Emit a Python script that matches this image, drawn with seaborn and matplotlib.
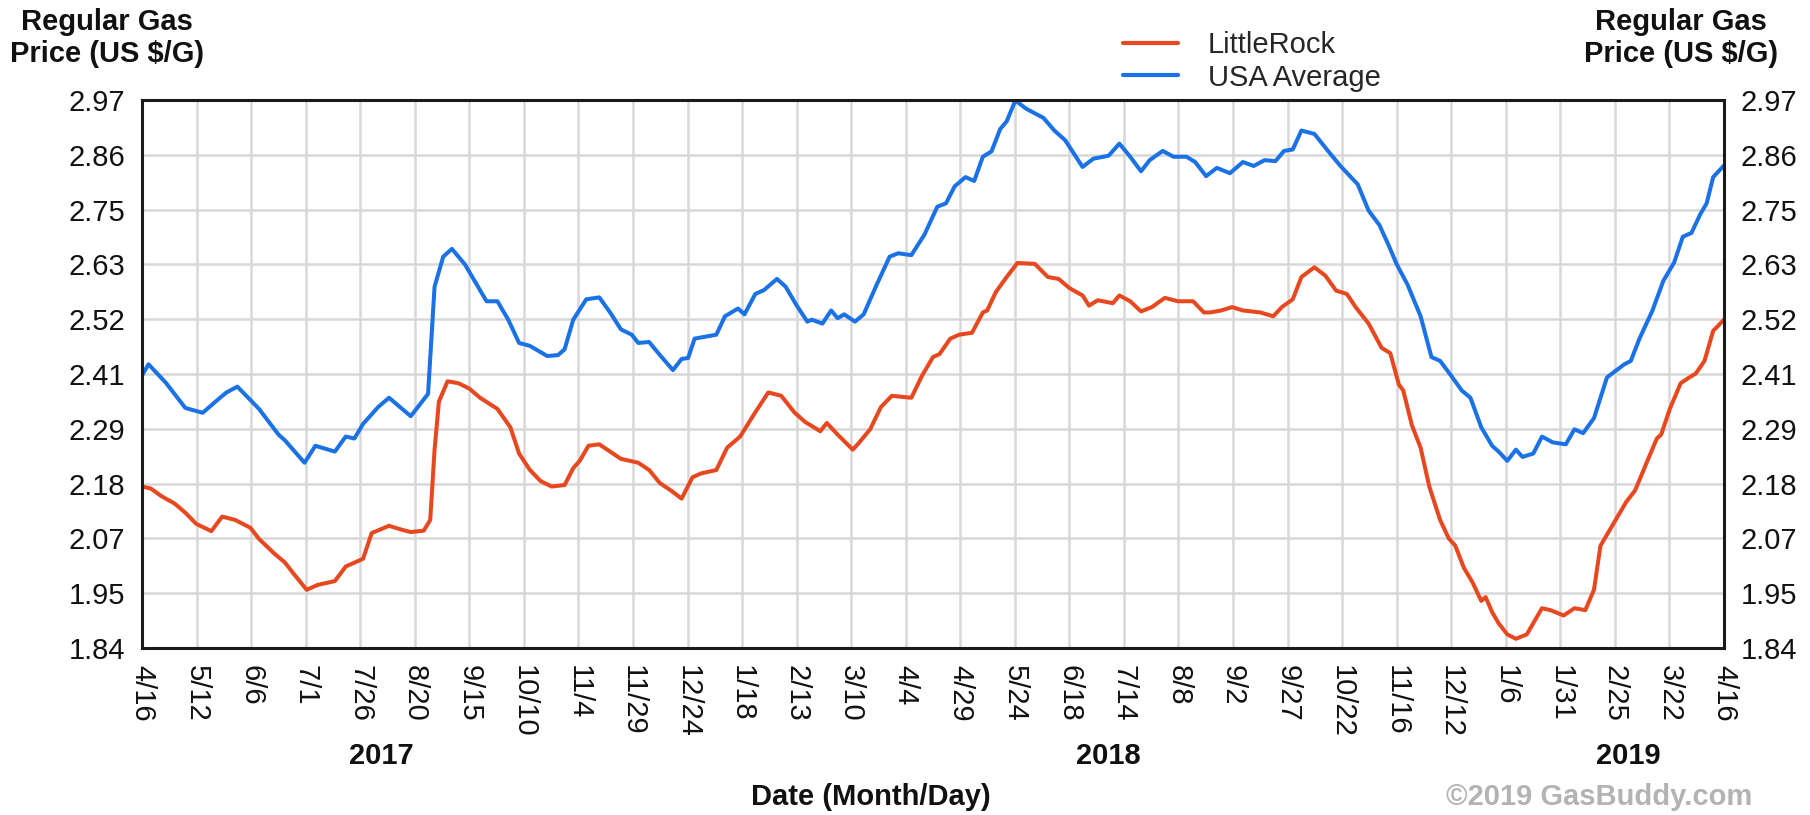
import matplotlib
matplotlib.use("Agg")
import matplotlib.pyplot as plt
import matplotlib.dates as mdates
import numpy as np
import pandas as pd
import seaborn as sns

# ---------------- data ----------------
little_rock_dates = [
    "2017-04-16", "2017-04-20", "2017-04-25", "2017-05-01", "2017-05-06", "2017-05-11",
    "2017-05-18", "2017-05-23", "2017-05-29", "2017-06-05", "2017-06-09", "2017-06-16",
    "2017-06-21", "2017-06-25", "2017-07-01", "2017-07-06", "2017-07-14", "2017-07-19",
    "2017-07-27", "2017-07-31", "2017-08-08", "2017-08-13", "2017-08-18", "2017-08-24",
    "2017-08-27", "2017-08-29", "2017-08-31", "2017-09-04", "2017-09-09", "2017-09-14",
    "2017-09-19", "2017-09-27", "2017-10-03", "2017-10-07", "2017-10-12", "2017-10-17",
    "2017-10-22", "2017-10-28", "2017-11-01", "2017-11-04", "2017-11-08", "2017-11-13",
    "2017-11-18", "2017-11-23", "2017-12-01", "2017-12-06", "2017-12-11", "2017-12-16",
    "2017-12-21", "2017-12-26", "2017-12-30", "2018-01-06", "2018-01-11", "2018-01-17",
    "2018-01-24", "2018-01-30", "2018-02-05", "2018-02-11", "2018-02-16", "2018-02-23",
    "2018-02-26", "2018-03-03", "2018-03-10", "2018-03-13", "2018-03-18", "2018-03-23",
    "2018-03-28", "2018-04-06", "2018-04-11", "2018-04-16", "2018-04-19", "2018-04-24",
    "2018-04-28", "2018-05-04", "2018-05-09", "2018-05-11", "2018-05-15", "2018-05-20",
    "2018-05-25", "2018-06-02", "2018-06-08", "2018-06-13", "2018-06-18", "2018-06-24",
    "2018-06-27", "2018-07-01", "2018-07-08", "2018-07-11", "2018-07-16", "2018-07-21",
    "2018-07-26", "2018-08-01", "2018-08-07", "2018-08-14", "2018-08-19", "2018-08-22",
    "2018-08-27", "2018-09-01", "2018-09-06", "2018-09-14", "2018-09-20", "2018-09-24",
    "2018-09-29", "2018-10-03", "2018-10-09", "2018-10-14", "2018-10-19", "2018-10-24",
    "2018-10-28", "2018-11-03", "2018-11-09", "2018-11-13", "2018-11-17", "2018-11-19",
    "2018-11-23", "2018-11-27", "2018-12-01", "2018-12-06", "2018-12-10", "2018-12-13",
    "2018-12-17", "2018-12-21", "2018-12-25", "2018-12-27", "2018-12-30", "2019-01-02",
    "2019-01-06", "2019-01-10", "2019-01-15", "2019-01-18", "2019-01-22", "2019-01-26",
    "2019-02-01", "2019-02-06", "2019-02-11", "2019-02-15", "2019-02-18", "2019-02-25",
    "2019-03-02", "2019-03-06", "2019-03-11", "2019-03-16", "2019-03-18", "2019-03-22",
    "2019-03-27", "2019-03-31", "2019-04-03", "2019-04-07", "2019-04-11", "2019-04-16",
]
little_rock_prices = [
    2.173, 2.169, 2.153, 2.138, 2.119, 2.096,
    2.081, 2.111, 2.104, 2.088, 2.065, 2.035,
    2.016, 1.993, 1.960, 1.970, 1.978, 2.008,
    2.024, 2.077, 2.092, 2.085, 2.079, 2.082,
    2.104, 2.249, 2.348, 2.390, 2.386, 2.375,
    2.356, 2.333, 2.295, 2.241, 2.207, 2.184,
    2.173, 2.176, 2.211, 2.226, 2.257, 2.260,
    2.245, 2.230, 2.222, 2.207, 2.180, 2.165,
    2.148, 2.192, 2.200, 2.207, 2.253, 2.276,
    2.326, 2.367, 2.360, 2.326, 2.306, 2.287,
    2.304, 2.280, 2.249, 2.264, 2.291, 2.337,
    2.360, 2.356, 2.402, 2.440, 2.446, 2.478,
    2.486, 2.490, 2.532, 2.536, 2.574, 2.605,
    2.634, 2.632, 2.605, 2.601, 2.582, 2.567,
    2.546, 2.557, 2.551, 2.567, 2.555, 2.534,
    2.543, 2.562, 2.555, 2.555, 2.532, 2.532,
    2.536, 2.543, 2.536, 2.532, 2.524, 2.543,
    2.559, 2.605, 2.625, 2.608, 2.577, 2.570,
    2.543, 2.509, 2.459, 2.448, 2.383, 2.371,
    2.299, 2.253, 2.173, 2.104, 2.066, 2.051,
    2.005, 1.975, 1.937, 1.945, 1.914, 1.891,
    1.868, 1.859, 1.868, 1.891, 1.922, 1.918,
    1.907, 1.922, 1.918, 1.960, 2.051, 2.104,
    2.142, 2.165, 2.219, 2.272, 2.280, 2.333,
    2.386, 2.398, 2.406, 2.432, 2.494, 2.517,
]

usa_dates = [
    "2017-04-16", "2017-04-19", "2017-04-27", "2017-05-06", "2017-05-14", "2017-05-22",
    "2017-05-25", "2017-05-30", "2017-06-09", "2017-06-18", "2017-06-21", "2017-06-30",
    "2017-07-05", "2017-07-14", "2017-07-19", "2017-07-23", "2017-07-27", "2017-08-03",
    "2017-08-08", "2017-08-18", "2017-08-26", "2017-08-29", "2017-09-02", "2017-09-06",
    "2017-09-12", "2017-09-17", "2017-09-22", "2017-09-27", "2017-10-02", "2017-10-07",
    "2017-10-12", "2017-10-20", "2017-10-25", "2017-10-28", "2017-11-01", "2017-11-07",
    "2017-11-13", "2017-11-18", "2017-11-23", "2017-11-28", "2017-12-01", "2017-12-06",
    "2017-12-11", "2017-12-17", "2017-12-21", "2017-12-24", "2017-12-27", "2018-01-06",
    "2018-01-10", "2018-01-16", "2018-01-19", "2018-01-24", "2018-01-28", "2018-02-03",
    "2018-02-07", "2018-02-12", "2018-02-17", "2018-02-19", "2018-02-24", "2018-02-28",
    "2018-03-03", "2018-03-06", "2018-03-11", "2018-03-15", "2018-03-21", "2018-03-27",
    "2018-03-31", "2018-04-06", "2018-04-12", "2018-04-18", "2018-04-22", "2018-04-26",
    "2018-05-01", "2018-05-05", "2018-05-09", "2018-05-13", "2018-05-17", "2018-05-20",
    "2018-05-24", "2018-05-29", "2018-06-06", "2018-06-11", "2018-06-16", "2018-06-24",
    "2018-06-29", "2018-07-06", "2018-07-11", "2018-07-16", "2018-07-21", "2018-07-25",
    "2018-07-31", "2018-08-05", "2018-08-11", "2018-08-15", "2018-08-20", "2018-08-25",
    "2018-08-31", "2018-09-06", "2018-09-11", "2018-09-16", "2018-09-21", "2018-09-25",
    "2018-09-29", "2018-10-03", "2018-10-09", "2018-10-16", "2018-10-21", "2018-10-29",
    "2018-11-03", "2018-11-08", "2018-11-12", "2018-11-16", "2018-11-21", "2018-11-27",
    "2018-12-02", "2018-12-06", "2018-12-11", "2018-12-16", "2018-12-20", "2018-12-25",
    "2018-12-30", "2019-01-02", "2019-01-06", "2019-01-10", "2019-01-13", "2019-01-18",
    "2019-01-22", "2019-01-27", "2019-02-02", "2019-02-06", "2019-02-10", "2019-02-15",
    "2019-02-21", "2019-03-01", "2019-03-04", "2019-03-08", "2019-03-14", "2019-03-19",
    "2019-03-24", "2019-03-28", "2019-04-01", "2019-04-05", "2019-04-08", "2019-04-11",
    "2019-04-15", "2019-04-16",
]
usa_prices = [
    2.402, 2.425, 2.387, 2.335, 2.325, 2.356,
    2.367, 2.379, 2.333, 2.280, 2.268, 2.222,
    2.257, 2.245, 2.276, 2.272, 2.302, 2.337,
    2.356, 2.318, 2.364, 2.585, 2.647, 2.663,
    2.631, 2.593, 2.555, 2.555, 2.517, 2.469,
    2.463, 2.442, 2.444, 2.456, 2.517, 2.559,
    2.563, 2.532, 2.497, 2.486, 2.469, 2.471,
    2.444, 2.413, 2.436, 2.438, 2.478, 2.486,
    2.524, 2.540, 2.528, 2.570, 2.578, 2.601,
    2.585, 2.547, 2.513, 2.517, 2.509, 2.536,
    2.520, 2.528, 2.513, 2.528, 2.589, 2.647,
    2.654, 2.650, 2.692, 2.750, 2.757, 2.792,
    2.811, 2.803, 2.853, 2.864, 2.910, 2.926,
    2.969, 2.952, 2.933, 2.907, 2.887, 2.832,
    2.849, 2.855, 2.880, 2.853, 2.823, 2.846,
    2.865, 2.853, 2.853, 2.842, 2.813, 2.830,
    2.819, 2.842, 2.834, 2.846, 2.844, 2.865,
    2.868, 2.907, 2.900, 2.861, 2.834, 2.796,
    2.742, 2.712, 2.673, 2.631, 2.589, 2.524,
    2.440, 2.432, 2.402, 2.371, 2.356, 2.295,
    2.257, 2.245, 2.226, 2.249, 2.234, 2.241,
    2.276, 2.264, 2.260, 2.291, 2.283, 2.314,
    2.398, 2.425, 2.432, 2.478, 2.536, 2.597,
    2.635, 2.688, 2.696, 2.734, 2.757, 2.811,
    2.830, 2.835,
]

series_names = ["LittleRock", "USA Average"]
series_colors = ["#e8481f", "#1a72e6"]

x_tick_labels = ["4/16", "5/12", "6/6", "7/1", "7/26", "8/20", "9/15", "10/10",
                 "11/4", "11/29", "12/24", "1/18", "2/13", "3/10", "4/4", "4/29",
                 "5/24", "6/18", "7/14", "8/8", "9/2", "9/27", "10/22", "11/16",
                 "12/12", "1/6", "1/31", "2/25", "3/22", "4/16"]
y_tick_labels = ["1.84", "1.95", "2.07", "2.18", "2.29", "2.41",
                 "2.52", "2.63", "2.75", "2.86", "2.97"]
year_labels = ["2017", "2018", "2019"]
x_start, x_end = "2017-04-16", "2019-04-16"
y_min, y_max = 1.84, 2.97

# ---------------- build frame ----------------
df = pd.concat([
    pd.DataFrame({"date": pd.to_datetime(little_rock_dates), "price": little_rock_prices,
                  "series": series_names[0]}),
    pd.DataFrame({"date": pd.to_datetime(usa_dates), "price": usa_prices,
                  "series": series_names[1]}),
], ignore_index=True)

sns.set_style("white")
plt.rcParams["font.family"] = ["Liberation Sans", "DejaVu Sans"]

W, H = 1810, 815
fig = plt.figure(figsize=(W / 100, H / 100), dpi=100)
ax = fig.add_axes([142 / W, 1 - 648 / H, (1724 - 142) / W, (648 - 100) / H])

sns.lineplot(data=df, x="date", y="price", hue="series", hue_order=series_names,
             palette=dict(zip(series_names, series_colors)), linewidth=2.9,
             ax=ax, legend=True, estimator=None, sort=True)

xs = mdates.date2num(pd.Timestamp(x_start))
xe = mdates.date2num(pd.Timestamp(x_end))
ax.set_xlim(xs, xe)
ax.set_ylim(y_min, y_max)

xticks = np.linspace(xs, xe, len(x_tick_labels))
yticks = np.linspace(y_min, y_max, len(y_tick_labels))
ax.set_xticks(xticks)
ax.set_xticklabels(x_tick_labels, rotation=-90, fontsize=21, va="top", ha="center")
ax.set_yticks(yticks)
ax.set_yticklabels(y_tick_labels, fontsize=21)
ax.tick_params(axis="both", length=0, pad=12, colors="#111111")
ax.set_xlabel("")
ax.set_ylabel("")

ax.grid(True, color="#d8d8d8", linewidth=1.8)
ax.set_axisbelow(True)
for s in ax.spines.values():
    s.set_color("#1a1a1a")
    s.set_linewidth(2.2)

ax2 = ax.twinx()
ax2.set_ylim(y_min, y_max)
ax2.set_yticks(yticks)
ax2.set_yticklabels(y_tick_labels, fontsize=21)
ax2.tick_params(axis="y", length=0, pad=12, colors="#111111")
ax2.grid(False)
for s in ax2.spines.values():
    s.set_visible(False)

# legend
handles, labels = ax.get_legend_handles_labels()
ax.legend(handles, labels, loc="upper left", bbox_to_anchor=(1123 / W, 1 - 31 / H),
          bbox_transform=fig.transFigure, frameon=False, fontsize=21,
          handlelength=1.9, handletextpad=1.0, labelspacing=0.16,
          borderpad=0, borderaxespad=0)
for line in ax.get_legend().get_lines():
    line.set_linewidth(3.0)

# titles / annotations
title = "Regular Gas\nPrice (US $/G)"
fig.text(107 / W, 1 - 38 / H, title, ha="center", va="center", fontsize=21,
         fontweight="bold", linespacing=1.2, color="#111111")
fig.text(1681 / W, 1 - 38 / H, title, ha="center", va="center", fontsize=21,
         fontweight="bold", linespacing=1.2, color="#111111")

for lab, px in zip(year_labels, [381, 1108, 1628]):
    fig.text(px / W, 1 - 756 / H, lab, ha="center", va="center", fontsize=21,
             fontweight="bold", color="#111111")
fig.text(871 / W, 1 - 797 / H, "Date (Month/Day)", ha="center", va="center",
         fontsize=21, fontweight="bold", color="#111111")
fig.text(1752 / W, 1 - 797 / H, "©2019 GasBuddy.com", ha="right", va="center",
         fontsize=21, fontweight="bold", color="#b3b3b3")

fig.savefig("out.png", dpi=100)
